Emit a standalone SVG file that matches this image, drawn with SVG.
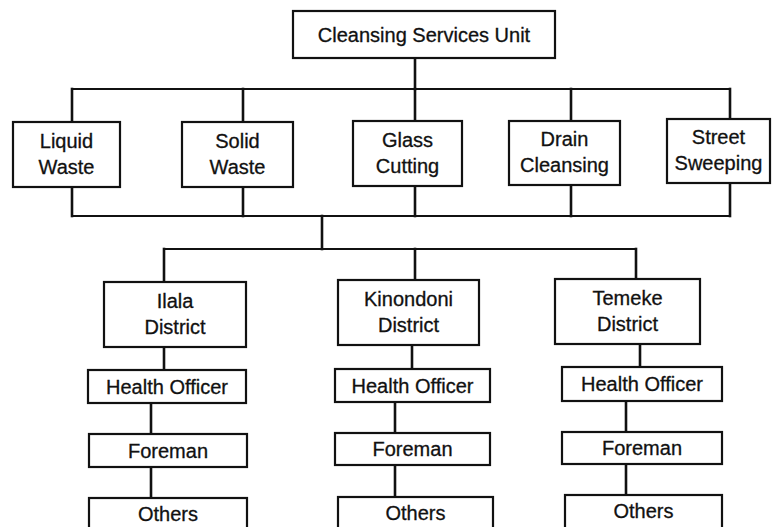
<svg xmlns="http://www.w3.org/2000/svg" width="773" height="527" viewBox="0 0 773 527">
  <style>
    .box { fill: #ffffff; stroke: #111111; stroke-width: 2.2; }
    .lbl { font-family: "Liberation Sans", Arial, sans-serif; font-size: 20px; fill: #111111; stroke: #111111; stroke-width: 0.3; text-anchor: middle; }
    .wire { fill: none; stroke: #111111; stroke-width: 2.6; stroke-linecap: square; }
    .bus { fill: none; stroke: #111111; stroke-width: 2; }
  </style>
  <rect width="773" height="527" fill="#ffffff"/>

  <!-- connectors -->
  <g id="connectors">
    <!-- unit to sections -->
    <line class="wire" x1="415" y1="58" x2="415" y2="89"/>
    <line class="bus" x1="72" y1="89" x2="730" y2="89"/>
    <line class="wire" x1="72" y1="89" x2="72" y2="121"/>
    <line class="wire" x1="243" y1="89" x2="243" y2="121"/>
    <line class="wire" x1="415" y1="89" x2="415" y2="121"/>
    <line class="wire" x1="571" y1="89" x2="571" y2="121"/>
    <line class="wire" x1="730" y1="89" x2="730" y2="119"/>
    <!-- sections joined below -->
    <line class="wire" x1="72" y1="187" x2="72" y2="216"/>
    <line class="wire" x1="243" y1="187" x2="243" y2="216"/>
    <line class="wire" x1="415" y1="186" x2="415" y2="216"/>
    <line class="wire" x1="571" y1="185" x2="571" y2="216"/>
    <line class="wire" x1="730" y1="183" x2="730" y2="216"/>
    <line class="bus" x1="72" y1="216" x2="730" y2="216"/>
    <!-- to districts -->
    <line class="wire" x1="322" y1="216" x2="322" y2="249"/>
    <line class="bus" x1="164" y1="249" x2="636" y2="249"/>
    <line class="wire" x1="164" y1="249" x2="164" y2="282"/>
    <line class="wire" x1="415" y1="249" x2="415" y2="280"/>
    <line class="wire" x1="636" y1="249" x2="636" y2="279"/>
    <!-- Ilala chain -->
    <line class="wire" x1="164" y1="347" x2="164" y2="370"/>
    <line class="wire" x1="151" y1="403" x2="151" y2="434"/>
    <line class="wire" x1="151" y1="467" x2="151" y2="498"/>
    <!-- Kinondoni chain -->
    <line class="wire" x1="412" y1="345" x2="412" y2="369"/>
    <line class="wire" x1="395" y1="402" x2="395" y2="433"/>
    <line class="wire" x1="395" y1="465" x2="395" y2="497"/>
    <!-- Temeke chain -->
    <line class="wire" x1="640" y1="344" x2="640" y2="367"/>
    <line class="wire" x1="626" y1="401" x2="626" y2="432"/>
    <line class="wire" x1="626" y1="464" x2="626" y2="495"/>
  </g>

  <g id="unit">
    <rect class="box" x="293" y="11" width="262" height="47"/>
    <text class="lbl" x="424" y="42">Cleansing Services Unit</text>
  </g>

  <g id="liquid-waste">
    <rect class="box" x="13" y="122" width="107" height="65"/>
    <text class="lbl" x="66.5" y="148">Liquid</text>
    <text class="lbl" x="66.5" y="174">Waste</text>
  </g>
  <g id="solid-waste">
    <rect class="box" x="182" y="122" width="111" height="65"/>
    <text class="lbl" x="237.5" y="148">Solid</text>
    <text class="lbl" x="237.5" y="174">Waste</text>
  </g>
  <g id="glass-cutting">
    <rect class="box" x="353" y="121" width="109" height="65"/>
    <text class="lbl" x="407.5" y="147">Glass</text>
    <text class="lbl" x="407.5" y="173">Cutting</text>
  </g>
  <g id="drain-cleansing">
    <rect class="box" x="509" y="121" width="111" height="64"/>
    <text class="lbl" x="564.5" y="146">Drain</text>
    <text class="lbl" x="564.5" y="172">Cleansing</text>
  </g>
  <g id="street-sweeping">
    <rect class="box" x="667" y="119" width="103" height="64"/>
    <text class="lbl" x="718.5" y="144">Street</text>
    <text class="lbl" x="718.5" y="170">Sweeping</text>
  </g>

  <g id="ilala-district">
    <rect class="box" x="104" y="282" width="142" height="65"/>
    <text class="lbl" x="175" y="308">Ilala</text>
    <text class="lbl" x="175" y="334">District</text>
  </g>
  <g id="ilala-health-officer">
    <rect class="box" x="88" y="370" width="158" height="33"/>
    <text class="lbl" x="167" y="394">Health Officer</text>
  </g>
  <g id="ilala-foreman">
    <rect class="box" x="89" y="434" width="158" height="33"/>
    <text class="lbl" x="168" y="458">Foreman</text>
  </g>
  <g id="ilala-others">
    <rect class="box" x="89" y="498" width="158" height="40"/>
    <text class="lbl" x="168" y="521">Others</text>
  </g>

  <g id="kinondoni-district">
    <rect class="box" x="338" y="280" width="141" height="65"/>
    <text class="lbl" x="408.5" y="306">Kinondoni</text>
    <text class="lbl" x="408.5" y="332">District</text>
  </g>
  <g id="kinondoni-health-officer">
    <rect class="box" x="335" y="369" width="155" height="33"/>
    <text class="lbl" x="412.5" y="393">Health Officer</text>
  </g>
  <g id="kinondoni-foreman">
    <rect class="box" x="335" y="433" width="155" height="32"/>
    <text class="lbl" x="412.5" y="456">Foreman</text>
  </g>
  <g id="kinondoni-others">
    <rect class="box" x="338" y="497" width="155" height="40"/>
    <text class="lbl" x="415.5" y="520">Others</text>
  </g>

  <g id="temeke-district">
    <rect class="box" x="555" y="279" width="145" height="65"/>
    <text class="lbl" x="627.5" y="305">Temeke</text>
    <text class="lbl" x="627.5" y="331">District</text>
  </g>
  <g id="temeke-health-officer">
    <rect class="box" x="562" y="367" width="160" height="34"/>
    <text class="lbl" x="642" y="391">Health Officer</text>
  </g>
  <g id="temeke-foreman">
    <rect class="box" x="562" y="432" width="160" height="32"/>
    <text class="lbl" x="642" y="455">Foreman</text>
  </g>
  <g id="temeke-others">
    <rect class="box" x="565" y="495" width="157" height="42"/>
    <text class="lbl" x="643.5" y="518">Others</text>
  </g>
</svg>
